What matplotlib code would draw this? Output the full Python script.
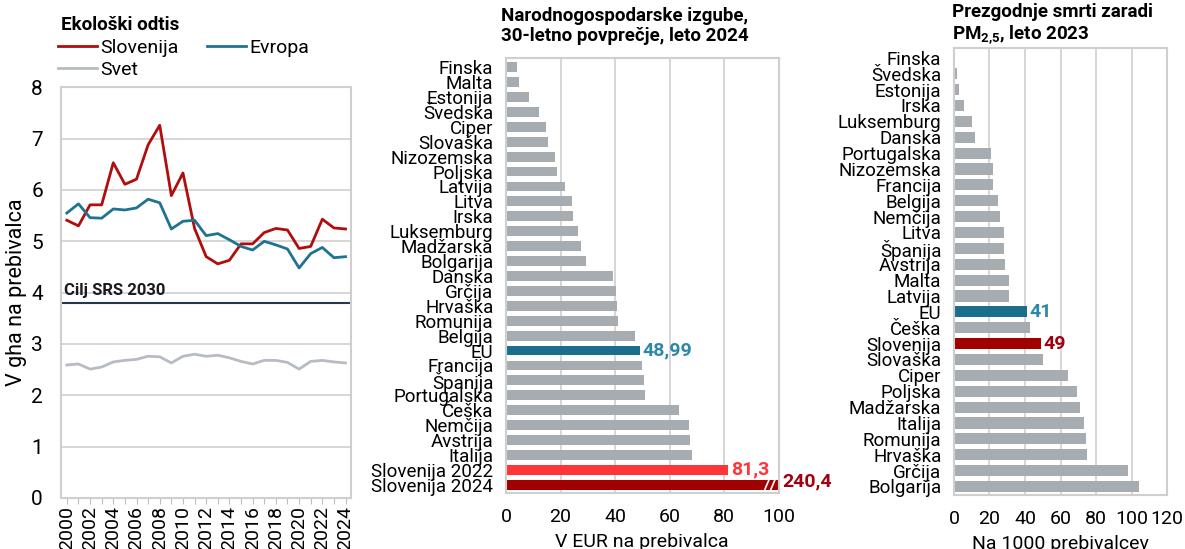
import numpy as np
import matplotlib
matplotlib.use("Agg")
import matplotlib.pyplot as plt

plt.rcParams['font.family'] = ['Roboto', 'DejaVu Sans']
plt.rcParams['mathtext.default'] = 'regular'

# --- data: ecological footprint (gha per capita)
years = list(range(2000, 2025))
slovenija = [5.41, 5.30, 5.71, 5.71, 6.53, 6.11, 6.21, 6.88, 7.26, 5.89, 6.33, 5.25, 4.70,
             4.56, 4.63, 4.95, 4.95, 5.17, 5.25, 5.22, 4.86, 4.90, 5.43, 5.26, 5.24]
evropa = [5.55, 5.73, 5.46, 5.45, 5.63, 5.61, 5.65, 5.82, 5.75, 5.24, 5.39, 5.41, 5.11,
          5.15, 5.03, 4.90, 4.83, 5.00, 4.93, 4.85, 4.48, 4.76, 4.88, 4.68, 4.70]
svet = [2.59, 2.61, 2.51, 2.55, 2.65, 2.68, 2.70, 2.76, 2.75, 2.63, 2.76, 2.80, 2.76,
        2.78, 2.73, 2.66, 2.61, 2.68, 2.68, 2.64, 2.51, 2.66, 2.68, 2.65, 2.63]
cilj_srs = 3.8

# --- data: economic losses, EUR per capita
izgube_drzave = ["Finska", "Malta", "Estonija", "Švedska", "Ciper", "Slovaška", "Nizozemska",
                 "Poljska", "Latvija", "Litva", "Irska", "Luksemburg", "Madžarska", "Bolgarija",
                 "Danska", "Grčija", "Hrvaška", "Romunija", "Belgija", "EU", "Francija",
                 "Španija", "Portugalska", "Češka", "Nemčija", "Avstrija", "Italija",
                 "Slovenija 2022", "Slovenija 2024"]
izgube = [4.0, 4.8, 8.5, 12.0, 14.8, 15.4, 17.8, 18.7, 21.6, 24.2, 24.5, 26.6, 27.6, 29.2,
          39.3, 40.3, 40.8, 41.0, 47.4, 48.99, 49.9, 50.5, 51.0, 63.4, 67.2, 67.5, 68.3,
          81.3, 240.4]

# --- data: premature deaths due to PM2.5
smrti_drzave = ["Finska", "Švedska", "Estonija", "Irska", "Luksemburg", "Danska", "Portugalska",
                "Nizozemska", "Francija", "Belgija", "Nemčija", "Litva", "Španija", "Avstrija",
                "Malta", "Latvija", "EU", "Češka", "Slovenija", "Slovaška", "Ciper", "Poljska",
                "Madžarska", "Italija", "Romunija", "Hrvaška", "Grčija", "Bolgarija"]
smrti = [0.7, 1.9, 2.8, 5.8, 9.9, 12.0, 21.0, 21.9, 21.9, 24.9, 25.9, 27.9, 27.9, 28.9,
         30.9, 30.9, 41, 42.8, 49, 49.9, 63.9, 69.0, 70.9, 72.9, 74.1, 74.8, 97.9, 104.1]

TEAL = "#1c6f8c"
TEAL_TXT = "#2b88aa"
GREY_BAR = "#a7acb1"
LIGHT_RED = "#ff3539"
DARK_RED = "#a00000"
GRID = "#d3d3d3"
FS_CAT = 13.5   # category labels
FS_NUM = 14     # tick numbers
FS_TTL = 13.5   # titles


def style_box(ax):
    for s in ax.spines.values():
        s.set_color("#cfcfcf")
        s.set_linewidth(1.5)


fig = plt.figure(figsize=(11.85, 5.49), dpi=100)

# ---------------- panel 1 ----------------
ax1 = fig.add_axes([0.0515, 0.093, 0.245, 0.748])
ax1.plot(years, slovenija, color="#b00d0d", lw=2.0, label="Slovenija")
ax1.plot(years, svet, color="#b7bcc2", lw=2.0, label="Svet")
ax1.plot(years, evropa, color="#1f7391", lw=2.0, label="Evropa")
ax1.axhline(cilj_srs, color="#26384c", lw=1.5)
ax1.text(years[0] - 0.25, cilj_srs + 0.1, "Cilj SRS 2030", fontsize=12, fontweight="bold",
         color="#1a1a1a", va="bottom", ha="left")
ax1.set_ylim(0, 8)
ax1.set_xlim(years[0] - 0.5, years[-1] + 0.5)
ax1.set_yticks(range(0, 9))
ax1.set_xticks(years)
ax1.set_xticklabels([str(y) if y % 2 == 0 else "" for y in years], rotation=90)
ax1.tick_params(axis="x", labelsize=FS_NUM, length=4, color="#bfbfbf", pad=2)
ax1.tick_params(axis="y", labelsize=FS_NUM + 1, length=0, pad=13)
ax1.grid(axis="y", color=GRID, lw=1.3)
ax1.set_axisbelow(True)
ax1.set_ylabel("V gha na prebivalca", fontsize=15.5, labelpad=3)
style_box(ax1)
ax1.legend(loc="lower left", bbox_to_anchor=(-0.01, 1.02), ncol=2, frameon=False,
           fontsize=14, handlelength=2.0, handletextpad=0.15, columnspacing=1.5,
           labelspacing=0.2, borderaxespad=0, borderpad=0)
fig.text(0.0515, 0.954, "Ekološki odtis", fontsize=FS_TTL, fontweight="bold", va="center")

# ---------------- panel 2 ----------------
ax2 = fig.add_axes([0.427, 0.102, 0.230, 0.792])
y2 = np.arange(len(izgube_drzave))
col2 = [GREY_BAR] * len(izgube_drzave)
col2[izgube_drzave.index("EU")] = TEAL
col2[izgube_drzave.index("Slovenija 2022")] = LIGHT_RED
col2[izgube_drzave.index("Slovenija 2024")] = DARK_RED
ax2.barh(y2, izgube, height=0.66, color=col2, zorder=2)
ax2.set_xlim(0, 100)
ax2.set_ylim(len(izgube_drzave) - 0.45, -0.6)
ax2.set_yticks(y2)
ax2.set_yticklabels(izgube_drzave)
ax2.set_xticks(range(0, 101, 20))
ax2.tick_params(axis="y", labelsize=FS_CAT, length=0, pad=9)
ax2.tick_params(axis="x", labelsize=FS_NUM, length=0, pad=11)
ax2.grid(axis="x", color=GRID, lw=1.3)
ax2.set_axisbelow(True)
ax2.set_xlabel("V EUR na prebivalca", fontsize=FS_NUM, labelpad=5)
style_box(ax2)
for lab, txtcol in [("EU", TEAL_TXT), ("Slovenija 2022", LIGHT_RED)]:
    i = izgube_drzave.index(lab)
    ax2.text(izgube[i] + 1.2, i, f"{izgube[i]:g}".replace(".", ","), color=txtcol,
             fontsize=FS_NUM, fontweight="bold", va="center")
i = izgube_drzave.index("Slovenija 2024")
ax2.text(101.3, i - 0.2, f"{izgube[i]:g}".replace(".", ","), color="#a00010",
         fontsize=FS_NUM, fontweight="bold", va="center", clip_on=False)
# axis break marks on the clipped bar
for xb in (95.0, 97.2):
    ax2.plot([xb, xb + 1.4], [i + 0.3, i - 0.3], color="white", lw=1.2, zorder=3)
fig.text(0.423, 0.988, "Narodnogospodarske izgube,\n30-letno povprečje, leto 2024",
         fontsize=FS_TTL, fontweight="bold", va="top", ha="left", linespacing=1.15)

# ---------------- panel 3 ----------------
ax3 = fig.add_axes([0.805, 0.098, 0.180, 0.814])
y3 = np.arange(len(smrti_drzave))
col3 = [GREY_BAR] * len(smrti_drzave)
col3[smrti_drzave.index("EU")] = TEAL
col3[smrti_drzave.index("Slovenija")] = DARK_RED
ax3.barh(y3, smrti, height=0.7, color=col3, zorder=2)
ax3.set_xlim(0, 120)
ax3.set_ylim(len(smrti_drzave) - 0.45, -0.6)
ax3.set_yticks(y3)
ax3.set_yticklabels(smrti_drzave)
ax3.set_xticks(range(0, 121, 20))
ax3.tick_params(axis="y", labelsize=FS_CAT, length=0, pad=9)
ax3.tick_params(axis="x", labelsize=FS_NUM, length=0, pad=11)
ax3.grid(axis="x", color=GRID, lw=1.3)
ax3.set_axisbelow(True)
ax3.set_xlabel("Na 1000 prebivalcev", fontsize=FS_NUM, labelpad=5)
style_box(ax3)
for lab, txtcol in [("EU", TEAL_TXT), ("Slovenija", "#a00010")]:
    i = smrti_drzave.index(lab)
    ax3.text(smrti[i] + 1.5, i, f"{smrti[i]:g}", color=txtcol,
             fontsize=FS_NUM, fontweight="bold", va="center")
fig.text(0.803, 0.995, "Prezgodnje smrti zaradi\nPM$_{2{,}5}$, leto 2023",
         fontsize=FS_TTL, fontweight="bold", va="top", ha="left", linespacing=1.15)

fig.savefig("out.png", dpi=100)
